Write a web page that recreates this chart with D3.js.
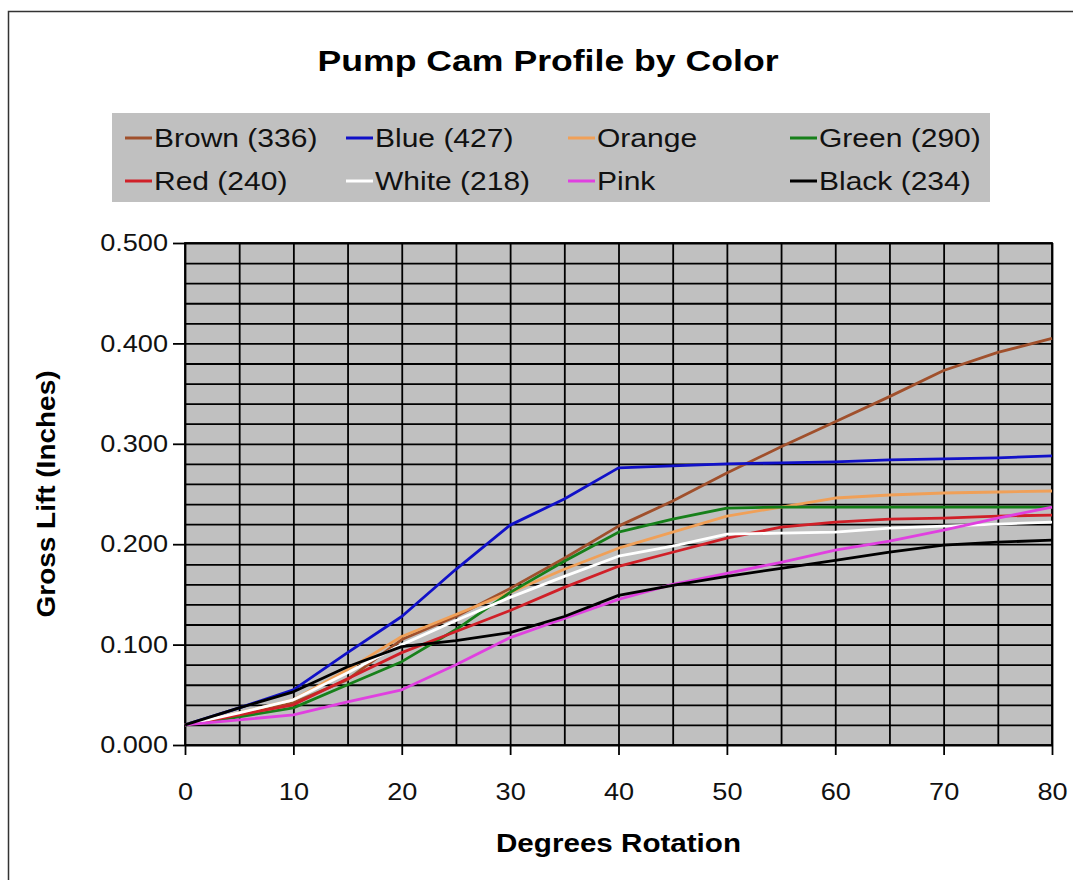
<!DOCTYPE html>
<html>
<head>
<meta charset="utf-8">
<script src="https://cdn.jsdelivr.net/npm/d3@7/dist/d3.min.js"></script>
<style>
    html, body { margin: 0; padding: 0; background: #fff; }
    svg { display: block; font-family: "Liberation Sans", Arial, sans-serif; }
</style>
</head>
<body>
<svg id="chart" width="1073" height="880"></svg>
<script>
    // DATA (every 5 degrees)
    var degrees = [0, 5, 10, 15, 20, 25, 30, 35, 40, 45, 50, 55, 60, 65, 70, 75, 80];

    var brown  = [0.020, 0.030, 0.042, 0.065, 0.105, 0.128, 0.156, 0.186, 0.218, 0.243, 0.271, 0.297, 0.322, 0.347, 0.373, 0.391, 0.405];
    var blue   = [0.020, 0.037, 0.055, 0.092, 0.128, 0.175, 0.219, 0.245, 0.276, 0.278, 0.280, 0.281, 0.282, 0.284, 0.285, 0.286, 0.288];
    var orange = [0.020, 0.032, 0.045, 0.075, 0.108, 0.130, 0.152, 0.175, 0.196, 0.212, 0.228, 0.237, 0.246, 0.249, 0.251, 0.252, 0.253];
    var green  = [0.020, 0.028, 0.037, 0.060, 0.083, 0.115, 0.152, 0.183, 0.212, 0.225, 0.236, 0.237, 0.237, 0.237, 0.237, 0.237, 0.237];
    var red    = [0.020, 0.030, 0.040, 0.066, 0.092, 0.113, 0.134, 0.157, 0.178, 0.192, 0.206, 0.217, 0.222, 0.225, 0.226, 0.228, 0.229];
    var white  = [0.020, 0.032, 0.045, 0.072, 0.100, 0.124, 0.147, 0.168, 0.188, 0.198, 0.210, 0.211, 0.212, 0.216, 0.218, 0.220, 0.222];
    var pink   = [0.020, 0.025, 0.030, 0.043, 0.055, 0.080, 0.107, 0.126, 0.145, 0.160, 0.171, 0.182, 0.194, 0.203, 0.214, 0.226, 0.237];
    var black  = [0.020, 0.037, 0.053, 0.078, 0.098, 0.104, 0.112, 0.128, 0.149, 0.159, 0.168, 0.176, 0.184, 0.192, 0.199, 0.202, 0.204];

    var series_names  = ["Brown (336)", "Blue (427)", "Orange", "Green (290)", "Red (240)", "White (218)", "Pink", "Black (234)"];
    var series_values = [brown, blue, orange, green, red, white, pink, black];
    var series_colors = ["#a0502c", "#1010c8", "#f0a058", "#17801a", "#d02028", "#ffffff", "#e040e0", "#000000"];

    var x_ticks = [0, 10, 20, 30, 40, 50, 60, 70, 80];
    var y_ticks = [0, 0.1, 0.2, 0.3, 0.4, 0.5];

    var svg = d3.select("#chart");

    var plot = { left: 185, right: 1052, top: 243, bottom: 745 };

    var x = d3.scaleLinear().domain([0, 80]).range([plot.left, plot.right]);
    var y = d3.scaleLinear().domain([0, 0.5]).range([plot.bottom, plot.top]);

    // the picture is stretched sideways, so text gets widened to fit
    function stretch(sel, factor, width) {
        sel.each( function() {
            var len = this.getComputedTextLength();
            d3.select(this)
                .attr("textLength", width || len * factor)
                .attr("lengthAdjust", "spacingAndGlyphs");
        });
    }

    // outer chart frame
    svg.append("rect")
        .attr("x", 8.5).attr("y", 11.5)
        .attr("width", 1100).attr("height", 900)
        .attr("fill", "#fff")
        .attr("stroke", "#333")
        .attr("stroke-width", 1.5);

    // title
    svg.append("text")
        .attr("x", 548).attr("y", 71)
        .attr("text-anchor", "middle")
        .style("font-size", "29px")
        .style("font-weight", "bold")
        .text("Pump Cam Profile by Color")
        .call(stretch, 1, 461);

    // legend
    var legend = svg.append("g");

    legend.append("rect")
        .attr("x", 112).attr("y", 113)
        .attr("width", 878).attr("height", 89)
        .attr("fill", "#c0c0c0");

    var legend_col = [120, 341, 563, 785],
        legend_row = [138, 181];

    var item = legend.selectAll(".item")
        .data(series_names)
        .enter().append("g")
        .attr("class", "item")
        .attr("transform", function(d, i) {
            return "translate(" + legend_col[i % 4] + "," + legend_row[Math.floor(i / 4)] + ")";
        });

    item.append("line")
        .attr("x1", 5).attr("x2", 32)
        .attr("y1", 0).attr("y2", 0)
        .attr("stroke", function(d, i) { return series_colors[i]; })
        .attr("stroke-width", 3);

    item.append("text")
        .attr("x", 34).attr("y", 9)
        .style("font-size", "25px")
        .attr("fill", "#111")
        .text(function(d) { return d; })
        .call(stretch, 1.2);

    // plot area
    svg.append("rect")
        .attr("x", plot.left).attr("y", plot.top)
        .attr("width", plot.right - plot.left)
        .attr("height", plot.bottom - plot.top)
        .attr("fill", "#c0c0c0");

    svg.append("g")
        .attr("transform", "translate(" + plot.left + ",0)")
        .call(d3.axisLeft(y).ticks(25).tickSize(-(plot.right - plot.left)).tickFormat(""))
        .call(function(g) { g.select(".domain").remove(); })
        .selectAll("line")
        .attr("stroke", "#000")
        .attr("stroke-width", 1.8);

    svg.append("g")
        .attr("transform", "translate(0," + plot.bottom + ")")
        .call(d3.axisBottom(x).ticks(16).tickSize(-(plot.bottom - plot.top)).tickFormat(""))
        .call(function(g) { g.select(".domain").remove(); })
        .selectAll("line")
        .attr("stroke", "#000")
        .attr("stroke-width", 1.8);

    svg.append("rect")
        .attr("x", plot.left).attr("y", plot.top)
        .attr("width", plot.right - plot.left)
        .attr("height", plot.bottom - plot.top)
        .attr("fill", "none")
        .attr("stroke", "#000")
        .attr("stroke-width", 1.8);

    // series lines
    var line = d3.line()
        .x(function(d, i) { return x(degrees[i]); })
        .y(function(d) { return y(d); });

    svg.append("g")
        .selectAll("path")
        .data(series_values)
        .enter().append("path")
        .attr("d", line)
        .attr("fill", "none")
        .attr("stroke", function(d, i) { return series_colors[i]; })
        .attr("stroke-width", 2.8)
        .attr("stroke-linejoin", "round");

    // axes
    var y_axis = svg.append("g")
        .attr("transform", "translate(" + plot.left + ",0)")
        .call(d3.axisLeft(y).tickValues(y_ticks).tickSize(12).tickPadding(5).tickFormat(d3.format(".3f")));

    var x_axis = svg.append("g")
        .attr("transform", "translate(0," + plot.bottom + ")")
        .call(d3.axisBottom(x).tickValues(x_ticks).tickSize(10).tickPadding(28).tickFormat(d3.format("d")));

    [y_axis, x_axis].forEach( function(g) {
        g.select(".domain").remove();
        g.selectAll("line").attr("stroke", "#000").attr("stroke-width", 1.8);
        g.selectAll("text")
            .attr("fill", "#111")
            .style("font-size", "24px")
            .style("font-family", "'Liberation Sans', Arial, sans-serif")
            .call(stretch, 1.13);
    });

    // axis titles
    svg.append("text")
        .attr("x", plot.left + (plot.right - plot.left) / 2)
        .attr("y", 852)
        .attr("text-anchor", "middle")
        .style("font-size", "25px")
        .style("font-weight", "bold")
        .text("Degrees Rotation")
        .call(stretch, 1, 245);

    svg.append("text")
        .attr("transform", "translate(55," + ((plot.top + plot.bottom) / 2) + ") rotate(-90)")
        .attr("text-anchor", "middle")
        .style("font-size", "26px")
        .style("font-weight", "bold")
        .text("Gross Lift (Inches)")
        .call(stretch, 1, 247);
</script>
</body>
</html>
